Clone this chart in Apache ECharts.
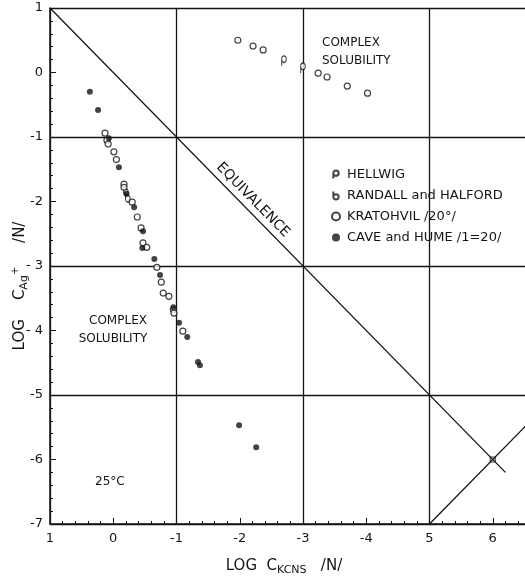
<!DOCTYPE html>
<html>
<head>
    <meta charset="utf-8">
    <script type="text/javascript" src="https://cdn.jsdelivr.net/npm/echarts@6/dist/echarts.min.js"></script>
    <title>Complex solubility</title>
    <style>
        html, body { margin: 0; padding: 0; background: #fff; }
    </style>
</head>
<body>
    <div id="container" style="width:525px;height:576px;"></div>
    <script type="text/javascript">
    // tick labels (the original omits the minus on 5 and 6)
    var xTickLabels = { '1': '1', '0': '0', '-1': '-1', '-2': '-2', '-3': '-3', '-4': '-4', '-5': '5', '-6': '6' };
    var yTickLabels = { '1': '1', '0': '0', '-1': '-1', '-2': '-2', '-3': '- 3', '-4': '- 4', '-5': '-5', '-6': '-6', '-7': '-7' };

    // [log C KCNS, log C Ag+]
    var hellwig = [[-2.70, 0.18], [-3.00, 0.07]];
    var randall = [[-0.20, -1.83], [-0.23, -1.93]];
    var kratohvil = [
        [0.13, -0.94], [0.10, -1.05], [0.08, -1.11], [-0.01, -1.23], [-0.05, -1.35],
        [-0.17, -1.73], [-0.17, -1.78], [-0.30, -2.01], [-0.38, -2.24], [-0.44, -2.41],
        [-0.47, -2.64], [-0.53, -2.71], [-0.69, -3.02], [-0.76, -3.25], [-0.79, -3.42],
        [-0.88, -3.47], [-0.95, -3.68], [-0.96, -3.73], [-1.10, -4.01],
        [-1.97, 0.50], [-2.21, 0.41], [-2.37, 0.35], [-3.24, -0.01], [-3.38, -0.07],
        [-3.70, -0.21], [-4.02, -0.32]
    ];
    var caveHume = [
        [0.37, -0.30], [0.24, -0.58], [0.07, -1.02], [-0.09, -1.47], [-0.21, -1.88],
        [-0.33, -2.09], [-0.47, -2.46], [-0.46, -2.72], [-0.65, -2.89], [-0.74, -3.14],
        [-0.95, -3.64], [-1.04, -3.88], [-1.17, -4.10], [-1.34, -4.49], [-1.37, -4.54],
        [-1.99, -5.47], [-2.26, -5.81]
    ];
    // straight lines
    var equivalence = [[1, 1], [-6.2, -6.2]];
    var crossLine = [[-5, -7], [-7, -5]];
    var crossPoint = [[-6, -6]];

    var ink = '#141414';
    var font = 'DejaVu Sans';

    var pathRho = 'path://M-3,0 A3,3 0 1,1 3,0 A3,3 0 1,1 -3,0 Z M-3,0 L-3,6';
    var pathB = 'path://M-3,0 A3,3 0 1,1 3,0 A3,3 0 1,1 -3,0 Z M-3,0 L-3,-6';

    var myChart = echarts.init(document.getElementById('container'));

    var option = {
        backgroundColor: '#fff',
        animation: false,
        textStyle: { fontFamily: font, color: ink },
        grid: { left: 50, top: 8, width: 506, bottom: 52, outerBoundsMode: 'none', containLabel: false },
        legend: {
            orient: 'vertical',
            left: 326,
            top: 163,
            itemWidth: 8,
            itemHeight: 8,
            itemGap: 8,
            textStyle: { fontFamily: font, fontSize: 13, color: ink, padding: [0, 0, 0, 2] },
            data: ['HELLWIG', 'RANDALL and HALFORD', 'KRATOHVIL /20°/', 'CAVE and HUME /1=20/']
        },
        xAxis: {
            type: 'value',
            inverse: true,
            min: -7,
            max: 1,
            interval: 1,
            axisLine: { onZero: false, lineStyle: { color: ink, width: 1.5 } },
            axisTick: { inside: true, length: 6, lineStyle: { color: ink } },
            minorTick: { show: true, splitNumber: 5, length: 3, lineStyle: { color: ink } },
            axisLabel: {
                margin: 8, fontSize: 13, color: ink, fontFamily: font,
                formatter: function (v) { return xTickLabels[String(v)] || ''; }
            },
            splitLine: { show: true, lineStyle: { color: [ink, 'transparent'], width: 1.3 } }
        },
        yAxis: {
            type: 'value',
            min: -7,
            max: 1,
            interval: 1,
            axisLine: { onZero: false, lineStyle: { color: ink, width: 1.5 } },
            axisTick: { inside: true, length: 6, lineStyle: { color: ink } },
            minorTick: { show: true, splitNumber: 5, length: 3, lineStyle: { color: ink } },
            axisLabel: {
                margin: 7, fontSize: 13, color: ink, fontFamily: font,
                formatter: function (v) { return yTickLabels[String(v)] || ''; }
            },
            splitLine: { show: true, lineStyle: { color: [ink, 'transparent'], width: 1.3 } }
        },
        series: [
            {
                type: 'line', data: equivalence, symbol: 'none', silent: true,
                lineStyle: { color: ink, width: 1.3 }
            },
            {
                type: 'line', data: crossLine, symbol: 'none', silent: true,
                lineStyle: { color: ink, width: 1.3 }
            },
            {
                type: 'scatter', data: crossPoint, symbol: 'rect', symbolSize: 5, silent: true,
                itemStyle: { color: '#fff', borderColor: ink, borderWidth: 1.2 }
            },
            {
                name: 'HELLWIG', type: 'scatter', data: hellwig,
                symbol: pathRho, symbolSize: [7, 10], symbolKeepAspect: true,
                itemStyle: { color: '#fff', borderColor: ink, borderWidth: 1.2 }
            },
            {
                name: 'RANDALL and HALFORD', type: 'scatter', data: randall,
                symbol: pathB, symbolSize: [7, 10], symbolKeepAspect: true,
                itemStyle: { color: '#fff', borderColor: ink, borderWidth: 1.2 }
            },
            {
                name: 'KRATOHVIL /20°/', type: 'scatter', data: kratohvil,
                symbol: 'circle', symbolSize: 6,
                itemStyle: { color: '#fff', borderColor: ink, borderWidth: 1.2 }
            },
            {
                name: 'CAVE and HUME /1=20/', type: 'scatter', data: caveHume,
                symbol: 'circle', symbolSize: 6,
                itemStyle: { color: ink }
            }
        ],
        graphic: [
            { type: 'text', x: 322, y: 43, style: { text: 'COMPLEX', fontSize: 12, fontFamily: font, fill: ink, verticalAlign: 'middle' } },
            { type: 'text', x: 322, y: 61, style: { text: 'SOLUBILITY', fontSize: 12, fontFamily: font, fill: ink, verticalAlign: 'middle' } },
            { type: 'text', x: 118, y: 321, style: { text: 'COMPLEX', fontSize: 12, fontFamily: font, fill: ink, align: 'center', verticalAlign: 'middle' } },
            { type: 'text', x: 113, y: 339, style: { text: 'SOLUBILITY', fontSize: 12, fontFamily: font, fill: ink, align: 'center', verticalAlign: 'middle' } },
            { type: 'text', x: 95, y: 482, style: { text: '25°C', fontSize: 12, fontFamily: font, fill: ink, verticalAlign: 'middle' } },
            {
                type: 'text', x: 253, y: 200, rotation: -0.795,
                style: { text: 'EQUIVALENCE', fontSize: 14, fontFamily: font, fill: ink, align: 'center', verticalAlign: 'middle' }
            },
            {
                type: 'text', x: 284, y: 566,
                style: {
                    text: '{a|LOG  C}{s|KCNS}{a|   /N/}', align: 'center', verticalAlign: 'middle', fill: ink,
                    rich: {
                        a: { fontSize: 15, fontFamily: font, lineHeight: 20, verticalAlign: 'middle' },
                        s: { fontSize: 11, fontFamily: font, lineHeight: 10, verticalAlign: 'bottom' }
                    }
                }
            },
            {
                type: 'text', x: 20, y: 286, rotation: Math.PI / 2,
                style: {
                    text: '{a|LOG    C}{s|Ag}{p|+}{a|     /N/}', align: 'center', verticalAlign: 'middle', fill: ink,
                    rich: {
                        a: { fontSize: 15, fontFamily: font, lineHeight: 20, verticalAlign: 'middle' },
                        s: { fontSize: 11, fontFamily: font, lineHeight: 10, verticalAlign: 'bottom' },
                        p: { fontSize: 10, fontFamily: font, lineHeight: 10, verticalAlign: 'top' }
                    }
                }
            }
        ]
    };

    myChart.setOption(option);
    </script>
</body>
</html>
